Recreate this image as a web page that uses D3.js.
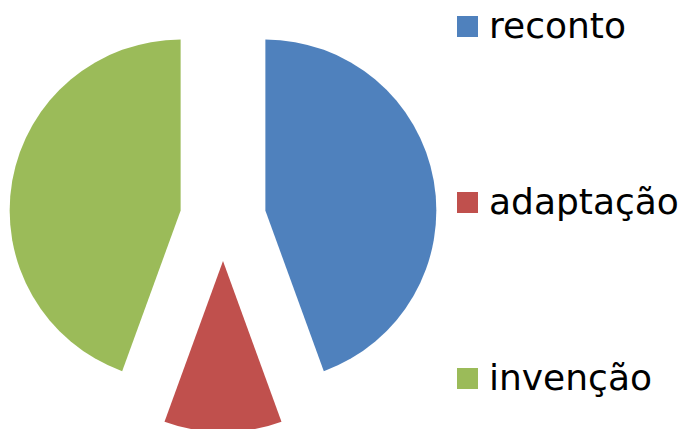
<!DOCTYPE html>
<html>
<head>
<meta charset="utf-8">
<script src="https://cdn.jsdelivr.net/npm/d3@7"></script>
<style>
  html, body { margin: 0; padding: 0; background: #fff; }
  svg { display: block; }
</style>
</head>
<body>
<svg id="chart" width="684" height="429"></svg>
<script>
// Story types and their counts
const categories = ["reconto", "adaptação", "invenção"];
const values = [4, 1, 4];
const colors = ["#4F81BD", "#C0504D", "#9BBB59"];

const width = 684, height = 429;
const cx = 223, cy = 218;
const radius = 171;
const explode = 43;

const svg = d3.select("#chart");

const pie = d3.pie().sort(null).value(d => d.value);
const arc = d3.arc().innerRadius(0).outerRadius(radius);

const data = categories.map((c, i) => ({ name: c, value: values[i], color: colors[i] }));
const arcs = pie(data);

const g = svg.append("g").attr("transform", `translate(${cx},${cy})`);

g.selectAll("path")
  .data(arcs)
  .join("path")
  .attr("d", arc)
  .attr("fill", d => d.data.color)
  .attr("transform", d => {
    const mid = (d.startAngle + d.endAngle) / 2;
    const dx = Math.sin(mid) * explode;
    const dy = -Math.cos(mid) * explode;
    return `translate(${dx},${dy})`;
  });

// Legend
const legendY = d3.scalePoint().domain(categories).range([38, 390]);

const legend = svg.append("g");
const items = legend.selectAll("g")
  .data(data)
  .join("g")
  .attr("transform", d => `translate(457,${legendY(d.name)})`);

items.append("rect")
  .attr("x", 0)
  .attr("y", -22)
  .attr("width", 21)
  .attr("height", 21)
  .attr("fill", d => d.color);

items.append("text")
  .attr("x", 32)
  .attr("y", 0)
  .attr("font-family", "DejaVu Sans, Verdana, sans-serif")
  .attr("font-size", 36)
  .attr("fill", "#000")
  .text(d => d.name);
</script>
</body>
</html>
